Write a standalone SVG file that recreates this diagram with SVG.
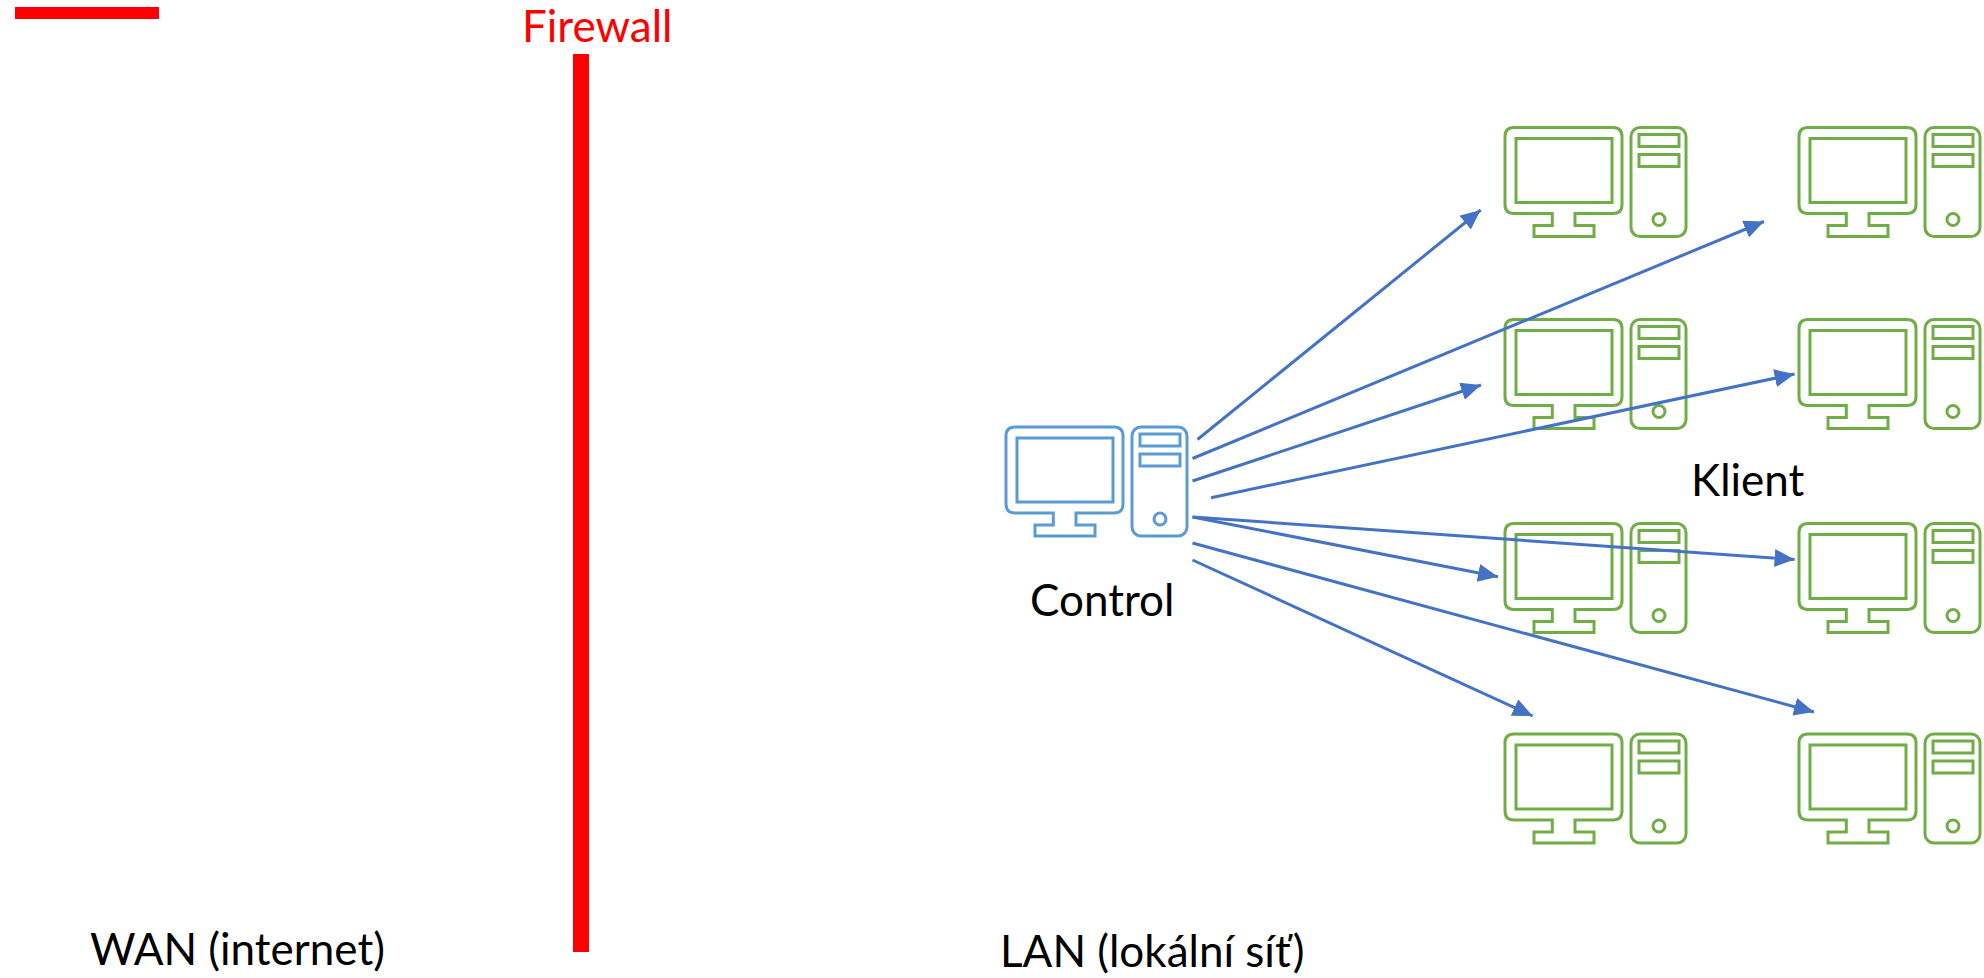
<svg xmlns="http://www.w3.org/2000/svg" width="1984" height="978" viewBox="0 0 1984 978">
<style>
.pc *{fill:none;stroke:currentColor;stroke-width:3}
.ctl{color:#5B9BD5}
.cli{color:#70AD47}
.c{stroke:#4472C4;stroke-width:3;fill:none;marker-end:url(#a)}
.t{font-family:Lato,"Liberation Sans",sans-serif;font-size:44px;fill:#000}
.wall{fill:#F00}
</style>
<defs>
<marker id="a" markerUnits="userSpaceOnUse" markerWidth="22" markerHeight="20" refX="20" refY="9" orient="auto"><path d="M0 0L20 9L0 18Z" fill="#4472C4"/></marker>
<g id="pc" class="pc">
<path d="M48.300 87V99H30V110H90V99H71V87H109Q118 87 118 78V10Q118 1 109 1H10Q1 1 1 10V78Q1 87 10 87Z"/>
<rect x="12" y="12" width="96" height="64"/>
<rect x="127" y="1" width="55" height="109" rx="9"/>
<rect x="135" y="8" width="40" height="12"/>
<rect x="135" y="28" width="40" height="12"/>
<circle cx="155" cy="93" r="6"/>
</g>
</defs>
<rect x="15" y="7" width="144" height="12" class="wall"/>
<rect x="573" y="54" width="16" height="898" class="wall"/>
<text x="522" y="42" class="t" style="fill:#F00">Firewall</text>
<text x="90" y="965" class="t">WAN (internet)</text>
<text x="1000" y="967" class="t">LAN (lokální síť)</text>
<text x="1030" y="616" class="t">Control</text>
<text x="1691" y="496" class="t">Klient</text>
<g id="control" class="ctl"><use href="#pc" x="1005" y="426"/></g>
<g id="client-1" class="cli"><use href="#pc" x="1504" y="126.500"/></g>
<g id="client-2" class="cli"><use href="#pc" x="1798" y="126.500"/></g>
<g id="client-3" class="cli"><use href="#pc" x="1504" y="318.500"/></g>
<g id="client-4" class="cli"><use href="#pc" x="1798" y="318.500"/></g>
<g id="client-5" class="cli"><use href="#pc" x="1504" y="522.500"/></g>
<g id="client-6" class="cli"><use href="#pc" x="1798" y="522.500"/></g>
<g id="client-7" class="cli"><use href="#pc" x="1504" y="733"/></g>
<g id="client-8" class="cli"><use href="#pc" x="1798" y="733"/></g>
<g id="connectors">
<line class="c" x1="1197.500" y1="439.500" x2="1480.700" y2="210"/>
<line class="c" x1="1192.500" y1="458.500" x2="1764" y2="221.500"/>
<line class="c" x1="1192.500" y1="481" x2="1481" y2="385"/>
<line class="c" x1="1211" y1="497.700" x2="1794.600" y2="374"/>
<line class="c" x1="1192.500" y1="517" x2="1794.600" y2="559.500"/>
<line class="c" x1="1192.500" y1="517" x2="1498" y2="576.700"/>
<line class="c" x1="1192.500" y1="543" x2="1814" y2="712"/>
<line class="c" x1="1192.500" y1="560" x2="1532.700" y2="716"/>
</g>
</svg>
